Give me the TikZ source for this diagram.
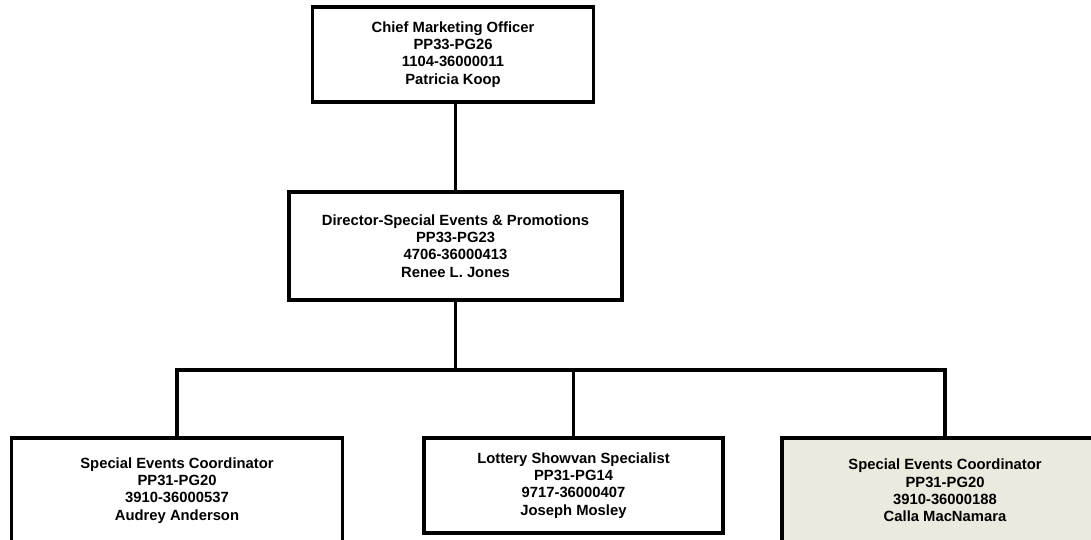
\documentclass[tikz,border=0pt]{standalone}
\usepackage{fontspec}
\setmainfont{Liberation Sans}
\begin{document}
\begin{tikzpicture}[x=1pt,y=-1pt,
  post/.style={draw=black, line width=3.5pt, fill=white, align=center,
    inner sep=0pt, font=\fontsize{14.8}{17.3}\selectfont\bfseries},
  held/.style={post, fill=beige},
  link/.style={line width=3.8pt, line cap=rect}]
\definecolor{beige}{HTML}{ECE9DF}
\useasboundingbox (0,0) rectangle (1091,540);
\clip (0,0) rectangle (1091,540);

% positions
\node[post, minimum width=281pt, minimum height=95pt] (cmo) at (453,54.5)
  {Chief Marketing Officer\\PP33-PG26\\1104-36000011\\Patricia Koop};
\node[post, minimum width=333pt, minimum height=108pt] (dir) at (455.5,246)
  {Director-Special Events \& Promotions\\PP33-PG23\\4706-36000413\\Renee L. Jones};
\node[post, minimum width=331pt, minimum height=105pt] (sec1) at (177,490.5)
  {Special Events Coordinator\\PP31-PG20\\3910-36000537\\Audrey Anderson};
\node[post, minimum width=299pt, minimum height=95pt] (lss) at (573.5,485.5)
  {Lottery Showvan Specialist\\PP31-PG14\\9717-36000407\\Joseph Mosley};
\node[held, minimum width=326pt, minimum height=105pt] (sec2) at (945,490.5)
  {Special Events Coordinator\\PP31-PG20\\3910-36000188\\Calla MacNamara};

% reporting lines
\coordinate (bus) at (0,370);
\draw[link] (dir.north |- cmo.south) -- (dir.north);
\draw[link] (dir.south) -- (dir.south |- bus);
\draw[link] (sec1.north) -- (sec1.north |- bus) -- (sec2.north |- bus) -- (sec2.north);
\draw[link] (lss.north) -- (lss.north |- bus);
\end{tikzpicture}
\end{document}
